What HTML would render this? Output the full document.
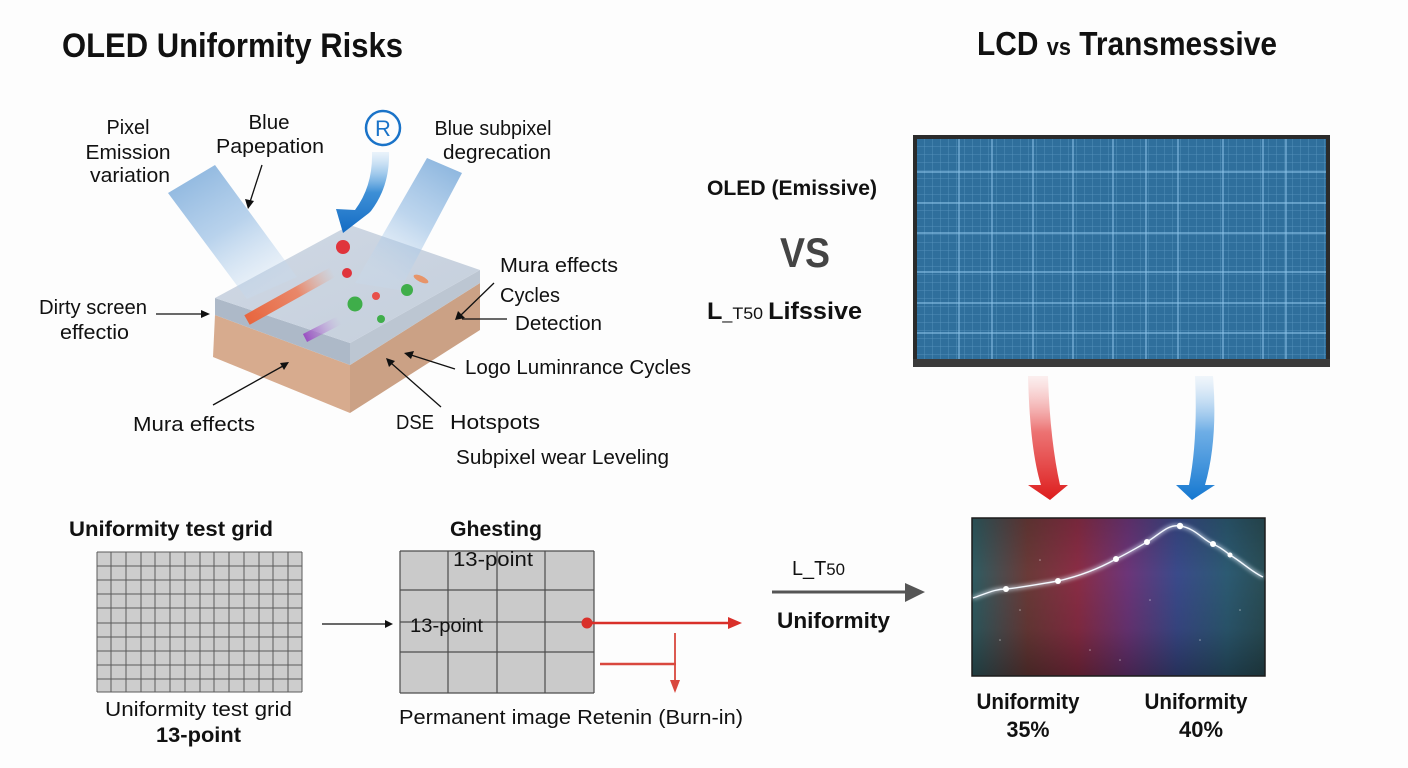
<!DOCTYPE html>
<html><head><meta charset="utf-8"><style>
html,body{margin:0;padding:0;background:#fdfdfd;}
svg{display:block;}
text{font-family:"Liberation Sans",sans-serif;fill:#111;}
</style></head><body>
<svg width="1408" height="768" viewBox="0 0 1408 768" xmlns="http://www.w3.org/2000/svg">
<defs>
  <linearGradient id="beamL" x1="0" y1="0" x2="0.6" y2="1">
    <stop offset="0" stop-color="#6fa3d6" stop-opacity="0.85"/>
    <stop offset="0.55" stop-color="#93bbe3" stop-opacity="0.65"/>
    <stop offset="1" stop-color="#c6dbf0" stop-opacity="0.3"/>
  </linearGradient>
  <linearGradient id="beamR" x1="1" y1="0" x2="0.5" y2="1">
    <stop offset="0" stop-color="#6fa3d6" stop-opacity="0.85"/>
    <stop offset="0.55" stop-color="#93bbe3" stop-opacity="0.6"/>
    <stop offset="1" stop-color="#c6dbf0" stop-opacity="0.25"/>
  </linearGradient>
  <linearGradient id="barrow" x1="0" y1="0" x2="0" y2="1">
    <stop offset="0" stop-color="#9fcbef" stop-opacity="0.2"/>
    <stop offset="0.5" stop-color="#3d8fd6"/>
    <stop offset="1" stop-color="#146cc4"/>
  </linearGradient>
  <linearGradient id="topface" x1="0" y1="0" x2="1" y2="1">
    <stop offset="0" stop-color="#cfd8e4"/>
    <stop offset="1" stop-color="#c5cfdc"/>
  </linearGradient>
  <linearGradient id="orangebar" x1="245" y1="322" x2="333" y2="272" gradientUnits="userSpaceOnUse">
    <stop offset="0" stop-color="#e8643c"/>
    <stop offset="0.6" stop-color="#ee7a55" stop-opacity="0.85"/>
    <stop offset="1" stop-color="#f0a080" stop-opacity="0"/>
  </linearGradient>
  <linearGradient id="purplebar" x1="305" y1="338" x2="340" y2="320" gradientUnits="userSpaceOnUse">
    <stop offset="0" stop-color="#9a4fc2"/>
    <stop offset="1" stop-color="#c9a0e0" stop-opacity="0"/>
  </linearGradient>
  <pattern id="minor" width="8" height="8" patternUnits="userSpaceOnUse" x="917" y="139">
    <path d="M8 0 V8 M0 8 H8" stroke="#86bde3" stroke-opacity="0.5" stroke-width="0.8" fill="none"/>
  </pattern>
  <linearGradient id="redarr" x1="0" y1="0" x2="0" y2="1">
    <stop offset="0" stop-color="#f2a0a0" stop-opacity="0.15"/>
    <stop offset="0.45" stop-color="#e85050" stop-opacity="0.8"/>
    <stop offset="1" stop-color="#dd1c1c"/>
  </linearGradient>
  <linearGradient id="bluearr" x1="0" y1="0" x2="0" y2="1">
    <stop offset="0" stop-color="#a8cdee" stop-opacity="0.15"/>
    <stop offset="0.45" stop-color="#4a9ae0" stop-opacity="0.8"/>
    <stop offset="1" stop-color="#1477d0"/>
  </linearGradient>
  <linearGradient id="panel" x1="0" y1="0" x2="1" y2="0">
    <stop offset="0" stop-color="#2e5c62"/>
    <stop offset="0.19" stop-color="#6a3a38"/>
    <stop offset="0.36" stop-color="#8a2d45"/>
    <stop offset="0.53" stop-color="#6c3578"/>
    <stop offset="0.7" stop-color="#3a4a8a"/>
    <stop offset="0.87" stop-color="#2c5a72"/>
    <stop offset="1" stop-color="#2a4d55"/>
  </linearGradient>
  <linearGradient id="panelV" x1="0" y1="0" x2="0" y2="1">
    <stop offset="0" stop-color="#000" stop-opacity="0.15"/>
    <stop offset="0.35" stop-color="#000" stop-opacity="0"/>
    <stop offset="0.7" stop-color="#000" stop-opacity="0.1"/>
    <stop offset="1" stop-color="#000" stop-opacity="0.35"/>
  </linearGradient>
  <filter id="glow" x="-50%" y="-50%" width="200%" height="200%">
    <feGaussianBlur stdDeviation="2"/>
  </filter>
</defs>

<!-- Titles -->
<text x="62" y="57" font-size="34" font-weight="bold" textLength="341" lengthAdjust="spacingAndGlyphs">OLED Uniformity Risks</text>
<text x="977" y="55" font-size="33" font-weight="bold" textLength="300" lengthAdjust="spacingAndGlyphs">LCD <tspan font-size="24">vs</tspan> Transmessive</text>

<!-- Slab -->
<polygon points="215,315 350,365 350,413 213,357" fill="#d7ab8e"/>
<polygon points="350,365 480,283 480,330 350,413" fill="#cba185"/>
<polygon points="215,298 350,343 350,365 215,315" fill="#adb9c8"/>
<polygon points="350,343 480,270 480,283 350,365" fill="#bcc6d2"/>
<polygon points="215,298 350,225 480,270 350,343" fill="url(#topface)"/>
<!-- bars -->
<line x1="247" y1="320" x2="333" y2="272" stroke="url(#orangebar)" stroke-width="11"/>
<line x1="305" y1="338" x2="340" y2="320" stroke="url(#purplebar)" stroke-width="9"/>
<!-- dots -->
<circle cx="343" cy="247" r="7" fill="#e0343c"/>
<circle cx="347" cy="273" r="5" fill="#e0343c"/>
<circle cx="376" cy="296" r="4" fill="#e8504a"/>
<circle cx="355" cy="304" r="7.5" fill="#3fae4a"/>
<circle cx="407" cy="290" r="6" fill="#3fae4a"/>
<circle cx="381" cy="319" r="4" fill="#3fae4a"/>
<ellipse cx="421" cy="279" rx="8" ry="3" transform="rotate(25 421 279)" fill="#ec8a55" opacity="0.85"/>

<!-- beams -->
<polygon points="168,193 215,165 297,277 247,299" fill="url(#beamL)"/>
<polygon points="427,158 462,173 400,290 355,283" fill="url(#beamR)"/>

<!-- R circle and blue arrow -->
<circle cx="383" cy="128" r="17" fill="none" stroke="#1a73c8" stroke-width="2.5"/>
<text x="383" y="136" font-size="22" text-anchor="middle" style="fill:#1a73c8">R</text>
<path d="M372,152 Q373,186 355,210 L336,209 L343,233 L369,213 L371,211 Q390,186 389,152 Z" fill="url(#barrow)"/>

<!-- top labels -->
<g font-size="20">
<text x="128" y="134" text-anchor="middle" textLength="43" lengthAdjust="spacingAndGlyphs">Pixel</text>
<text x="128" y="159" text-anchor="middle" textLength="85" lengthAdjust="spacingAndGlyphs">Emission</text>
<text x="130" y="182" text-anchor="middle" textLength="80" lengthAdjust="spacingAndGlyphs">variation</text>
<text x="269" y="129" text-anchor="middle" textLength="41" lengthAdjust="spacingAndGlyphs">Blue</text>
<text x="270" y="153" text-anchor="middle" textLength="108" lengthAdjust="spacingAndGlyphs">Papepation</text>
<text x="493" y="135" text-anchor="middle" textLength="117" lengthAdjust="spacingAndGlyphs">Blue subpixel</text>
<text x="497" y="159" text-anchor="middle" textLength="108" lengthAdjust="spacingAndGlyphs">degrecation</text>
<text x="500" y="272" textLength="118" lengthAdjust="spacingAndGlyphs">Mura effects</text>
<text x="500" y="302" textLength="60" lengthAdjust="spacingAndGlyphs">Cycles</text>
<text x="515" y="330" textLength="87" lengthAdjust="spacingAndGlyphs">Detection</text>
<text x="39" y="314" textLength="108" lengthAdjust="spacingAndGlyphs">Dirty screen</text>
<text x="60" y="339" textLength="69" lengthAdjust="spacingAndGlyphs">effectio</text>
<text x="465" y="374" textLength="226" lengthAdjust="spacingAndGlyphs">Logo Luminrance Cycles</text>
<text x="396" y="429" textLength="38" lengthAdjust="spacingAndGlyphs">DSE</text>
<text x="450" y="429" textLength="90" lengthAdjust="spacingAndGlyphs">Hotspots</text>
<text x="133" y="431" textLength="122" lengthAdjust="spacingAndGlyphs">Mura effects</text>
<text x="456" y="464" textLength="213" lengthAdjust="spacingAndGlyphs">Subpixel wear Leveling</text>
</g>

<!-- label arrows -->
<g stroke="#111" stroke-width="1.3" fill="none">
<line x1="262" y1="165" x2="250" y2="202"/>
<line x1="156" y1="314" x2="203" y2="314"/>
<line x1="494" y1="283" x2="460" y2="316"/>
<line x1="507" y1="319" x2="462" y2="319"/>
<line x1="455" y1="369" x2="411" y2="355"/>
<line x1="441" y1="407" x2="391" y2="363"/>
<line x1="213" y1="405" x2="283" y2="366"/>
</g>
<g fill="#111">
<polygon points="248,209 245,199 254,201"/>
<polygon points="210,314 201,310 201,318"/>
<polygon points="455,320 458,311 465,318"/>
<polygon points="404,353 414,351 411,359"/>
<polygon points="386,358 395,361 389,367"/>
<polygon points="289,362 284,370 280,363"/>
</g>

<!-- Middle labels -->
<text x="707" y="195" font-size="21" font-weight="bold" textLength="170" lengthAdjust="spacingAndGlyphs">OLED (Emissive)</text>
<text x="780" y="267" font-size="42" font-weight="bold" textLength="50" lengthAdjust="spacingAndGlyphs" style="fill:#444">VS</text>
<text x="707" y="319" font-size="24" font-weight="bold" textLength="155" lengthAdjust="spacingAndGlyphs">L<tspan font-size="17" font-weight="normal">_T50 </tspan>Lifssive</text>

<!-- Monitor -->
<rect x="913" y="135" width="417" height="232" fill="#2b2b2b"/>
<rect x="913" y="359" width="417" height="8" fill="#3a3a3a"/>
<rect x="917" y="139" width="409" height="220" fill="#2f6f9c"/>
<rect x="917" y="139" width="409" height="220" fill="url(#minor)"/>
<g stroke="#8ec5ea" stroke-width="1.2" stroke-opacity="0.85">
<line x1="959" y1="139" x2="959" y2="359"/>
<line x1="992" y1="139" x2="992" y2="359"/>
<line x1="1033" y1="139" x2="1033" y2="359"/>
<line x1="1073" y1="139" x2="1073" y2="359"/>
<line x1="1113" y1="139" x2="1113" y2="359"/>
<line x1="1146" y1="139" x2="1146" y2="359"/>
<line x1="1178" y1="139" x2="1178" y2="359"/>
<line x1="1223" y1="139" x2="1223" y2="359"/>
<line x1="1263" y1="139" x2="1263" y2="359"/>
<line x1="1286" y1="139" x2="1286" y2="359"/>
<line x1="917" y1="172" x2="1326" y2="172"/>
<line x1="917" y1="203" x2="1326" y2="203"/>
<line x1="917" y1="233" x2="1326" y2="233"/>
<line x1="917" y1="272" x2="1326" y2="272"/>
<line x1="917" y1="303" x2="1326" y2="303"/>
<line x1="917" y1="333" x2="1326" y2="333"/>
</g>

<!-- Red & blue curved arrows -->
<path d="M1028,376 Q1030,450 1041,485 L1028,485 L1050,500 L1068,485 L1060,485 Q1050,440 1048,376 Z" fill="url(#redarr)"/>
<path d="M1195,376 Q1198,440 1189,485 L1176,485 L1192,500 L1215,485 L1205,485 Q1218,440 1213,376 Z" fill="url(#bluearr)"/>

<!-- L_T50 arrow -->
<text x="792" y="575" font-size="20" textLength="53" lengthAdjust="spacingAndGlyphs">L_T<tspan font-size="17">50</tspan></text>
<line x1="772" y1="592" x2="907" y2="592" stroke="#555" stroke-width="3"/>
<polygon points="905,583 925,592 905,602" fill="#555"/>
<text x="777" y="628" font-size="22" font-weight="bold" textLength="113" lengthAdjust="spacingAndGlyphs">Uniformity</text>

<!-- Gradient panel -->
<rect x="972" y="518" width="293" height="158" fill="url(#panel)"/>
<rect x="972" y="518" width="293" height="158" fill="url(#panelV)"/>
<rect x="972" y="518" width="293" height="158" fill="none" stroke="#1c1c1c" stroke-width="1.5"/>
<g fill="#fff" opacity="0.5">
<circle cx="1000" cy="640" r="0.8"/><circle cx="1040" cy="560" r="0.8"/><circle cx="1090" cy="650" r="0.8"/><circle cx="1150" cy="600" r="0.8"/><circle cx="1200" cy="640" r="0.8"/><circle cx="1240" cy="610" r="0.8"/><circle cx="1120" cy="660" r="0.8"/><circle cx="1020" cy="610" r="0.8"/>
</g>
<path d="M973,598 C990,592 996,589 1006,589 C1025,587 1040,584 1058,581 C1080,576 1100,568 1116,559 C1130,552 1140,546 1147,542 C1160,534 1168,524 1180,526 C1195,528 1203,540 1213,544 C1222,548 1226,552 1230,555 C1242,562 1252,572 1263,577" fill="none" stroke="#e8f4ff" stroke-width="2.5" filter="url(#glow)" opacity="0.9"/>
<path d="M973,598 C990,592 996,589 1006,589 C1025,587 1040,584 1058,581 C1080,576 1100,568 1116,559 C1130,552 1140,546 1147,542 C1160,534 1168,524 1180,526 C1195,528 1203,540 1213,544 C1222,548 1226,552 1230,555 C1242,562 1252,572 1263,577" fill="none" stroke="#f4f9ff" stroke-width="1.4"/>
<g fill="#fff">
<circle cx="1006" cy="589" r="3"/><circle cx="1058" cy="581" r="3"/><circle cx="1116" cy="559" r="3"/><circle cx="1147" cy="542" r="3"/><circle cx="1180" cy="526" r="3.2"/><circle cx="1213" cy="544" r="3"/><circle cx="1230" cy="555" r="2.5"/>
</g>
<text x="1028" y="709" font-size="22" font-weight="bold" text-anchor="middle" textLength="103" lengthAdjust="spacingAndGlyphs">Uniformity</text>
<text x="1028" y="737" font-size="22" font-weight="bold" text-anchor="middle" textLength="43" lengthAdjust="spacingAndGlyphs">35%</text>
<text x="1196" y="709" font-size="22" font-weight="bold" text-anchor="middle" textLength="103" lengthAdjust="spacingAndGlyphs">Uniformity</text>
<text x="1201" y="737" font-size="22" font-weight="bold" text-anchor="middle" textLength="44" lengthAdjust="spacingAndGlyphs">40%</text>

<!-- Bottom-left fine grid -->
<text x="69" y="536" font-size="21" font-weight="bold" textLength="204" lengthAdjust="spacingAndGlyphs">Uniformity test grid</text>
<rect x="97" y="552" width="205" height="140" fill="#cdcdcd"/>
<g stroke="#5a5a5a" stroke-width="1">
<line x1="97" y1="552" x2="97" y2="692"/><line x1="111" y1="552" x2="111" y2="692"/><line x1="126" y1="552" x2="126" y2="692"/><line x1="141" y1="552" x2="141" y2="692"/><line x1="155" y1="552" x2="155" y2="692"/><line x1="170" y1="552" x2="170" y2="692"/><line x1="185" y1="552" x2="185" y2="692"/><line x1="200" y1="552" x2="200" y2="692"/><line x1="214" y1="552" x2="214" y2="692"/><line x1="229" y1="552" x2="229" y2="692"/><line x1="244" y1="552" x2="244" y2="692"/><line x1="259" y1="552" x2="259" y2="692"/><line x1="273" y1="552" x2="273" y2="692"/><line x1="288" y1="552" x2="288" y2="692"/><line x1="302" y1="552" x2="302" y2="692"/>
<line x1="97" y1="552" x2="302" y2="552"/><line x1="97" y1="566" x2="302" y2="566"/><line x1="97" y1="580" x2="302" y2="580"/><line x1="97" y1="594" x2="302" y2="594"/><line x1="97" y1="608" x2="302" y2="608"/><line x1="97" y1="623" x2="302" y2="623"/><line x1="97" y1="637" x2="302" y2="637"/><line x1="97" y1="651" x2="302" y2="651"/><line x1="97" y1="665" x2="302" y2="665"/><line x1="97" y1="679" x2="302" y2="679"/><line x1="97" y1="692" x2="302" y2="692"/>
</g>
<text x="105" y="716" font-size="20" textLength="187" lengthAdjust="spacingAndGlyphs">Uniformity test grid</text>
<text x="156" y="742" font-size="21" font-weight="bold" textLength="85" lengthAdjust="spacingAndGlyphs">13-point</text>

<!-- arrow to coarse grid -->
<line x1="322" y1="624" x2="386" y2="624" stroke="#111" stroke-width="1.3"/>
<polygon points="393,624 385,620 385,628" fill="#111"/>

<!-- Coarse grid -->
<text x="450" y="536" font-size="21" font-weight="bold" textLength="92" lengthAdjust="spacingAndGlyphs">Ghesting</text>
<rect x="400" y="551" width="194" height="142" fill="#cacaca"/>
<g stroke="#4d4d4d" stroke-width="1.2">
<line x1="400" y1="551" x2="400" y2="693"/><line x1="448" y1="551" x2="448" y2="693"/><line x1="497" y1="551" x2="497" y2="693"/><line x1="545" y1="551" x2="545" y2="693"/><line x1="594" y1="551" x2="594" y2="693"/>
<line x1="400" y1="551" x2="594" y2="551"/><line x1="400" y1="590" x2="594" y2="590"/><line x1="400" y1="622" x2="594" y2="622"/><line x1="400" y1="652" x2="594" y2="652"/><line x1="400" y1="693" x2="594" y2="693"/>
</g>
<text x="453" y="566" font-size="20" textLength="80" lengthAdjust="spacingAndGlyphs">13-point</text>
<text x="410" y="632" font-size="19" textLength="73" lengthAdjust="spacingAndGlyphs">13-point</text>

<!-- red arrows -->
<circle cx="587" cy="623" r="5.5" fill="#d9302a"/>
<line x1="587" y1="623" x2="730" y2="623" stroke="#d9302a" stroke-width="2.5"/>
<polygon points="742,623 728,617 728,629" fill="#d9302a"/>
<line x1="600" y1="664" x2="676" y2="664" stroke="#d9483e" stroke-width="2.5"/>
<line x1="675" y1="633" x2="675" y2="682" stroke="#d9483e" stroke-width="1.8"/>
<polygon points="675,693 670,680 680,680" fill="#d9483e"/>
<text x="399" y="724" font-size="20" textLength="344" lengthAdjust="spacingAndGlyphs">Permanent image Retenin (Burn-in)</text>
</svg>
</body></html>
